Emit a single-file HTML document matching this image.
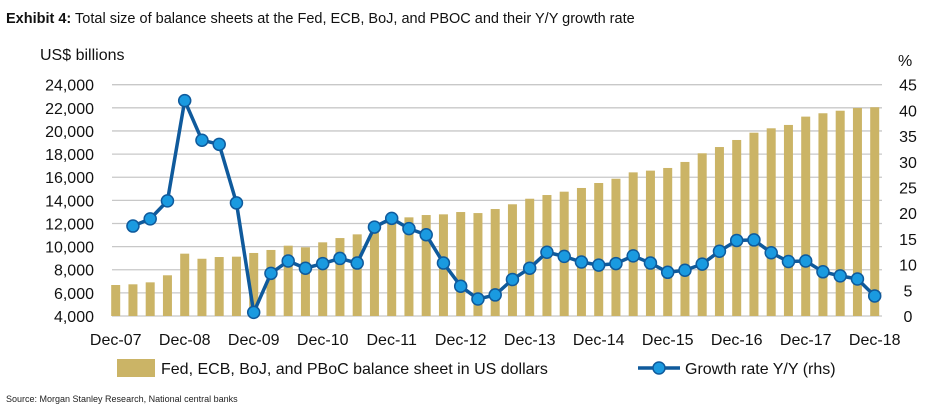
<!DOCTYPE html>
<html><head><meta charset="utf-8"><style>
body{margin:0;background:#fff;width:948px;height:411px;overflow:hidden;font-family:"Liberation Sans",sans-serif}
</style></head><body>
<svg width="948" height="411" xmlns="http://www.w3.org/2000/svg" font-family="Liberation Sans, sans-serif">
<text x="6" y="23" font-size="14.5" fill="#111"><tspan font-weight="bold">Exhibit 4:</tspan>  Total size of balance sheets at the Fed, ECB, BoJ, and PBOC and their Y/Y growth rate</text>
<text x="40" y="60" font-size="16" fill="#111">US$ billions</text>
<text x="898" y="66" font-size="16" fill="#111">%</text>
<g id="grid"></g><g id="bars"></g><g id="line"></g><g id="ticks"></g>
<rect x="117" y="359" width="38" height="18" fill="#cbb466"/>
<text x="161" y="374" font-size="16" fill="#111">Fed, ECB, BoJ, and PBoC balance sheet in US dollars</text>
<line x1="638" y1="368" x2="680" y2="368" stroke="#0f5a9c" stroke-width="3.5"/>
<circle cx="659" cy="368" r="6" fill="#1a9ae0" stroke="#0f5a9c" stroke-width="1.5"/>
<text x="685" y="374" font-size="16" fill="#111">Growth rate Y/Y (rhs)</text>
<text x="6" y="402" font-size="9" fill="#222">Source: Morgan Stanley Research, National central banks</text>
</svg>
<script>
const balanceValues=[6680,6740,6910,7520,9390,8950,9100,9130,9450,9710,10080,9940,10370,10740,11060,11290,12150,12530,12730,12790,12990,12900,13250,13660,14140,14460,14750,15070,15500,15870,16420,16570,16800,17320,18070,18610,19220,19850,20230,20520,21240,21530,21750,21990,22050];
const growthValues=[null,17.5,18.9,22.4,41.9,34.2,33.4,22.0,0.7,8.3,10.7,9.3,10.2,11.2,10.3,17.3,19.0,17.0,15.8,10.3,5.8,3.3,4.1,7.1,9.3,12.4,11.6,10.5,9.9,10.2,11.7,10.3,8.5,8.9,10.1,12.6,14.7,14.8,12.3,10.6,10.7,8.6,7.8,7.2,3.9];
const xLabels=["Dec-07","Dec-08","Dec-09","Dec-10","Dec-11","Dec-12","Dec-13","Dec-14","Dec-15","Dec-16","Dec-17","Dec-18"];
const leftTicks=[4000,6000,8000,10000,12000,14000,16000,18000,20000,22000,24000];
const rightTicks=[0,5,10,15,20,25,30,35,40,45];
const NS="http://www.w3.org/2000/svg";
const plotTop=84.7,plotBot=316,x0=115.7,step=17.25;
const yL=v=>plotBot-(v-4000)/20000*(plotBot-plotTop);
const yR=v=>plotBot-v/45*(plotBot-plotTop);
const xI=i=>x0+i*step;
function mk(t,a,p){const e=document.createElementNS(NS,t);for(const k in a)e.setAttribute(k,a[k]);p.appendChild(e);return e;}
const g=document.getElementById('grid'),b=document.getElementById('bars'),l=document.getElementById('line'),tk=document.getElementById('ticks');
leftTicks.forEach(v=>{const e=mk('line',{x1:112,x2:882,y1:yL(v),y2:yL(v),stroke:'#c8c8c8','stroke-width':1.3},g);


const t=mk('text',{x:94,y:yL(v)+6,'font-size':16,'text-anchor':'end',fill:'#111'},tk);t.textContent=v.toLocaleString('en-US');

});
rightTicks.forEach(v=>{const t=mk('text',{x:908,y:yR(v)+6,'font-size':16,'text-anchor':'middle',fill:'#111'},tk);t.textContent=v;

});
xLabels.forEach((s,k)=>{const t=mk('text',{x:xI(k*4),y:345,'font-size':16,'text-anchor':'middle',fill:'#111'},tk);t.textContent=s;

});
balanceValues.forEach((v,i)=>{const e=mk('rect',{x:xI(i)-4.5,y:yL(v),width:9,height:plotBot-yL(v),fill:'#cbb466'},b);

});
let d='';growthValues.forEach((v,i)=>{if(v==null)return;d+=(d?'L':'M')+xI(i)+','+yR(v);});
const p=mk('path',{d:d,fill:'none',stroke:'#0f5a9c','stroke-width':3.5,'stroke-linejoin':'round'},l);


growthValues.forEach((v,i)=>{if(v==null)return;const c=mk('circle',{cx:xI(i),cy:yR(v),r:6,fill:'#1a9ae0',stroke:'#0f5a9c','stroke-width':1.5},l);

});
</script>
</body></html>
